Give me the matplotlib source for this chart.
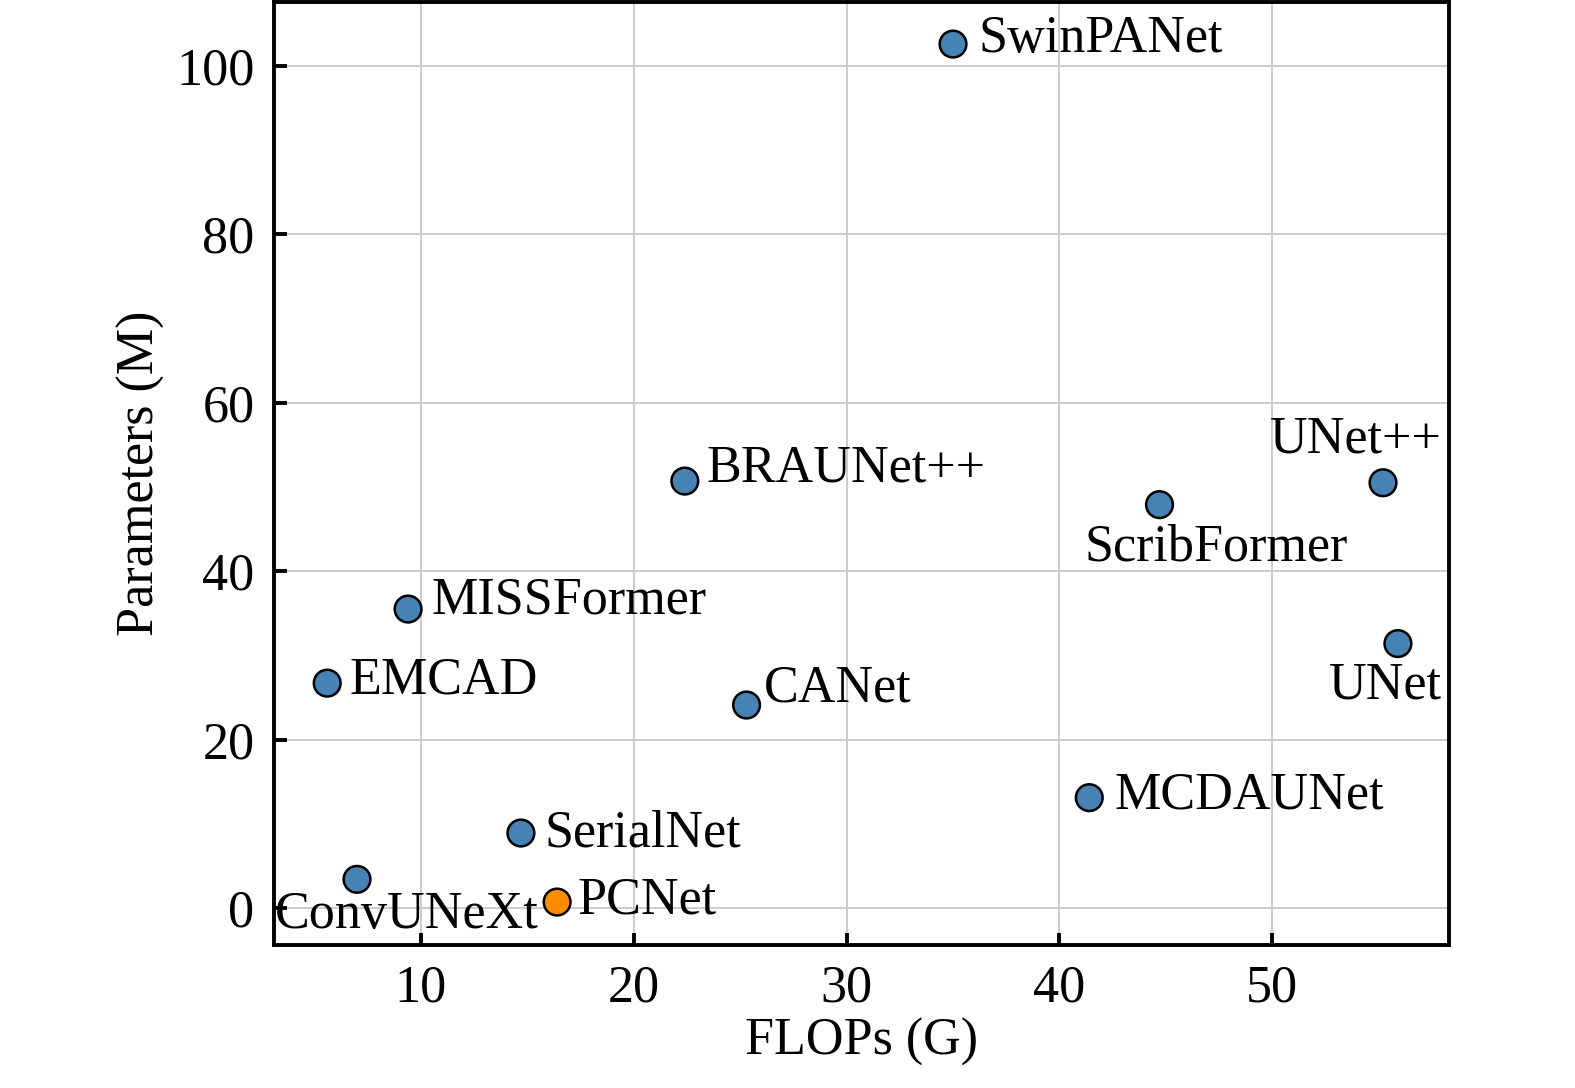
import matplotlib.pyplot as plt

# FLOPs (G) 和 Parameters (M)
names = ['SwinPANet', 'BRAUNet++', 'ScribFormer', 'UNet++', 'MISSFormer', 'EMCAD',
         'CANet', 'UNet', 'MCDAUNet', 'SerialNet', 'ConvUNeXt', 'PCNet']
flops = [35.0, 22.4, 44.7, 55.2, 9.4, 5.6, 25.3, 55.9, 41.4, 14.7, 7.0, 16.4]
params = [102.6, 50.7, 47.9, 50.5, 35.5, 26.7, 24.1, 31.4, 13.1, 8.9, 3.4, 0.7]
ours = 'PCNet'

# 标签偏移 (像素) 和对齐方式
offsets = {
    'SwinPANet': (25, 5, 'left'),
    'BRAUNet++': (22, 13, 'left'),
    'ScribFormer': (57, -43, 'center'),
    'UNet++': (-27, 43, 'center'),
    'MISSFormer': (23, 9, 'left'),
    'EMCAD': (22, 3, 'left'),
    'CANet': (17, 17, 'left'),
    'UNet': (-13, -42, 'center'),
    'MCDAUNet': (25, 2, 'left'),
    'SerialNet': (24, 0, 'left'),
    'ConvUNeXt': (-82, -36, 'left'),
    'PCNet': (20, 2, 'left'),
}

plt.rcParams['font.family'] = ['Liberation Serif', 'DejaVu Serif']
fs = 37.5

fig = plt.figure(figsize=(15.75, 10.88), dpi=100)
ax = fig.add_axes([274/1575, 1-945/1088, (1449-274)/1575, (945-2)/1088])

colors = ['#FF8C00' if n == ours else '#4682B4' for n in names]
ax.scatter(flops, params, s=370, c=colors, edgecolors='black', linewidths=1.8, zorder=3)

for n, x, y in zip(names, flops, params):
    dx, dy, ha = offsets[n]
    ax.annotate(n, (x, y), xytext=(dx, dy), textcoords='offset pixels',
                ha=ha, va='center', fontsize=fs, zorder=4)

ax.set_xlim(3.1, 58.3)
ax.set_ylim(-4.4, 107.6)
ax.set_xticks([10, 20, 30, 40, 50])
ax.set_yticks([0, 20, 40, 60, 80, 100])
ax.grid(True, color='#cccccc', linewidth=1.4, zorder=0)
ax.set_axisbelow(True)
ax.tick_params(direction='in', length=9, width=2.8, labelsize=fs, pad=14)
for sp in ax.spines.values():
    sp.set_linewidth(2.8)

ax.set_xlabel('FLOPs (G)', fontsize=fs, labelpad=4)
ax.set_ylabel('Parameters (M)', fontsize=fs, labelpad=8)

fig.savefig('out.png', dpi=100)
